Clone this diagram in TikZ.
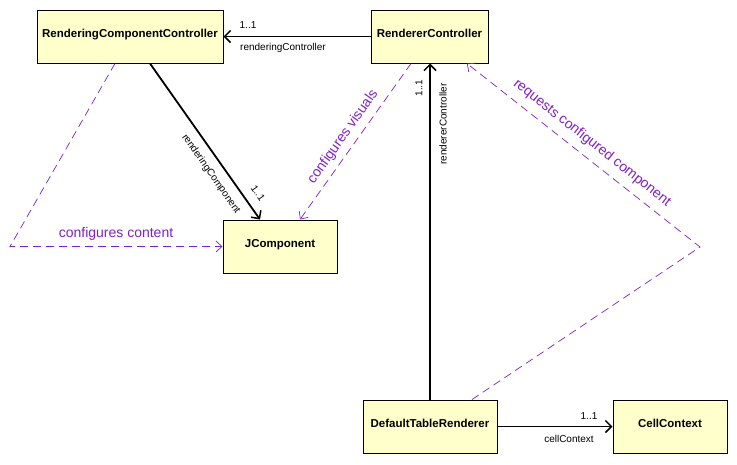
\documentclass[tikz,border=0pt]{standalone}
\usepackage{fontspec}
\setmainfont{Liberation Sans}
\usetikzlibrary{arrows.meta}
\definecolor{classfill}{HTML}{FFFFCC}
\definecolor{deppurple}{RGB}{128,32,200}
\begin{document}
\begin{tikzpicture}[x=1pt,y=-1pt,
  classbox/.style={draw=black,line width=1pt,fill=classfill,minimum height=53pt,
    inner sep=0pt,font=\fontsize{11.5}{13}\selectfont\bfseries,text height=8pt,text depth=6pt},
  assoc/.style={draw=black,line width=1.8pt,-{Straight Barb[length=6pt,width=12pt,line width=1.5pt]}},
  dep/.style={draw=deppurple,line width=0.7pt,dash pattern=on 8pt off 5pt,
    -{Straight Barb[length=6pt,width=11pt,line width=0.7pt]}},
  rolelbl/.style={font=\fontsize{10}{11}\selectfont,text=black,inner sep=0pt},
  deplbl/.style={font=\fontsize{14}{16}\selectfont,text=deppurple,inner sep=0pt}]
\useasboundingbox (0,0) rectangle (737,464);
\fill[white] (0,0) rectangle (737,464);

% classes
\node[classbox,minimum width=186pt] (rcc) at (130,36.5) {RenderingComponentController};
\node[classbox,minimum width=117pt] (rc)  at (429.5,36.5) {RendererController};
\node[classbox,minimum width=114pt] (jc)  at (280,246.5) {JComponent};
\node[classbox,minimum width=134pt] (dtr) at (430,426.5) {DefaultTableRenderer};
\node[classbox,minimum width=114pt] (cc)  at (670,426.5) {CellContext};

% bend points of the dependencies
\coordinate (leftbend) at (10,246.5);
\coordinate (rightbend) at (700,247);

% associations
\draw[assoc] (rc.west) -- (rcc.east);
\node[rolelbl] (m1) at (248,25) {1..1};
\node[rolelbl,anchor=west] (r1) at (240,48) {renderingController};

\draw[assoc] ([xshift=20]rcc.south) -- ([xshift=-20]jc.north);
\node[rolelbl,rotate=-55] (m2) at (258,193) {1..1};
\node[rolelbl,rotate=-55] (r2) at (211,174) {renderingComponent};

\draw[assoc] (dtr.north) -- (dtr.north |- rc.south);
\node[rolelbl,rotate=90] (m3) at (419,88) {1..1};
\node[rolelbl,rotate=90] (r3) at (443,124) {rendererController};

\draw[assoc] (dtr.east) -- (cc.west);
\node[rolelbl] (m4) at (589,416) {1..1};
\node[rolelbl] (r4) at (569,439) {cellContext};

% dependencies
\draw[dep] ([xshift=-15]rcc.south) -- (leftbend) -- (jc.west);
\node[deplbl] (d1) at (116,234) {configures content};

\draw[dep] ([xshift=-18.5]rc.south) -- ([xshift=20]jc.north);
\node[deplbl,rotate=54.7] (d2) at (343,137) {configures visuals};

\draw[dep] ([xshift=42]dtr.north) -- (rightbend) -- ([xshift=37.5]rc.south);
\node[deplbl,rotate=-38.3] (d3) at (592,143) {requests configured component};
\end{tikzpicture}
\end{document}
